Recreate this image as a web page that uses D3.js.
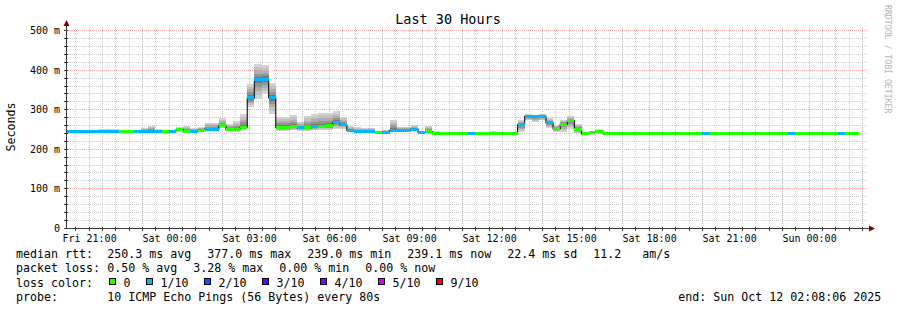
<!DOCTYPE html>
<html lang="en">
<head>
  <meta charset="UTF-8">
  <title>Last 30 Hours</title>
  <script src="https://d3js.org/d3.v7.min.js"></script>
  <style>
    body { margin: 0; background: #ffffff; }
    svg { display: block; font-family: "DejaVu Sans Mono", monospace; }
    .grid-minor { stroke: #cfcfcf; stroke-dasharray: 1,1; shape-rendering: crispEdges; }
    .grid-major { stroke: #f0a8a8; stroke-dasharray: 1,1; shape-rendering: crispEdges; }
    .axis { stroke: #3a3a3a; shape-rendering: crispEdges; }
    .tick-label { font-size: 10px; fill: #000; }
    .legend { font-size: 11.63px; fill: #000; white-space: pre; }
  </style>
</head>
<body>
<svg width="897" height="310"></svg>
<script>
  // one consolidated step = 16 minutes, first step starts Fri 20:00
  const stepStart = Date.UTC(2025, 9, 10, 20, 0, 0);
  const stepMinutes = 16;

  // median rtt per step (ms)
  const median = [
    246,246,246,246,246,246,246,246,245,245,
    246,246,246,246,246,246,250,246,246,248,
    251,251,260,250,250,256,330,376,377,330,
    255,255,258,254,254,258,258,259,267,262,
    248,245,245,245,243,243,248,248,248,251,
    243,245,240,239,239,239,239,239,239,239,
    240,239,239,240,262,283,282,283,267,252,
    263,272,250,239,242,246,241,239,239,239,
    239,239,239,239,239,239,239,239,239,239,
    239,239,239,239,239,239,239,239,239,239,
    239,239,239,239,239,239,239,239,239,239,
    239,239
  ];
  // lost pings out of 10 per step
  const loss = [
    1,1,1,1,1,1,1,1,0,0,
    1,1,1,1,0,1,0,0,1,0,
    1,1,0,0,0,0,1,1,1,1,
    0,0,0,1,0,1,0,0,1,1,
    1,1,1,1,0,1,1,1,1,1,
    1,0,0,0,0,0,0,1,0,0,
    0,0,0,0,1,1,1,1,1,0,
    0,0,0,0,0,0,0,0,0,0,
    0,0,0,0,0,0,0,0,0,0,
    1,0,0,0,0,0,0,0,0,0,
    0,0,1,0,0,0,0,0,0,1,
    0,0
  ];
  // highest / lowest ping per step (ms), drawn as smoke
  const smokeHi = [
    248,248,248,248,248,251,251,251,248,248,
    248,254,259,251,248,249,256,259,254,256,
    267,267,279,263,271,288,366,415,413,368,
    282,282,286,269,284,288,293,293,296,282,
    258,257,254,255,246,250,273,257,257,261,
    246,260,246,240,240,240,240,240,240,240,
    246,240,240,242,273,288,287,290,278,262,
    275,284,263,242,246,251,244,240,240,240,
    240,240,240,240,240,240,240,240,240,240,
    240,240,240,240,240,240,240,240,240,240,
    240,240,240,240,240,240,240,240,240,240,
    240,240
  ];
  const smokeLo = [
    244,244,244,244,244,244,244,244,243,243,
    244,244,244,244,244,244,246,244,244,245,
    246,246,253,245,246,250,307,328,341,290,
    246,246,248,247,247,248,249,249,252,252,
    245,242,242,242,241,241,244,244,244,246,
    241,242,238,238,238,238,238,238,238,238,
    238,238,238,238,244,273,270,273,254,244,
    244,252,240,238,239,240,239,238,238,238,
    238,238,238,238,238,238,238,238,238,238,
    238,238,238,238,238,238,238,238,238,238,
    238,238,238,238,238,238,238,238,238,238,
    238,238
  ];

  const yTicks = [0, 100, 200, 300, 400, 500];
  const yTickLabels = ["0", "100 m", "200 m", "300 m", "400 m", "500 m"];

  const lossSteps = [0, 1, 2, 3, 4, 5, 9];
  const lossLabels = ["0", "1/10", "2/10", "3/10", "4/10", "5/10", "9/10"];
  const lossColors = ["#26ff00", "#00b8ff", "#0059ff", "#5e00ff", "#7e00ff", "#dd00ff", "#ff0000"];

  const rttStats = ["median rtt:", "250.3 ms avg", "377.0 ms max", "239.0 ms min", "239.1 ms now", "22.4 ms sd", "11.2   am/s"];
  const lossStats = ["packet loss:", "0.50 % avg", "3.28 % max", "0.00 % min", "0.00 % now"];
  const probeInfo = ["probe:", "10 ICMP Echo Pings (56 Bytes) every 80s"];
  const endLabel = "end: Sun Oct 12 02:08:06 2025";

  const plotLeft = 66, plotRight = 866, plotTop = 27, plotBottom = 228;
  const tStart = new Date(Date.UTC(2025, 9, 10, 20, 8, 6));
  const tEnd = new Date(Date.UTC(2025, 9, 12, 2, 8, 6));

  const svg = d3.select("svg");
  const x = d3.scaleUtc().domain([tStart, tEnd]).range([plotLeft, plotRight]);
  const y = d3.scaleLinear().domain([0, 500]).range([228.3, 30.7]);
  const px = v => Math.floor(v) + 0.5;

  // grid
  const grid = svg.append("g");
  const minorX = d3.utcMinute.every(30).range(tStart, tEnd).filter(d => d.getUTCMinutes() !== 0);
  const majorX = d3.utcHour.range(tStart, tEnd);
  const minorY = d3.range(20, 520, 20).filter(v => v % 100 !== 0);

  grid.selectAll(".vminor").data(minorX).join("line")
    .attr("class", "grid-minor")
    .attr("x1", d => px(x(d))).attr("x2", d => px(x(d)))
    .attr("y1", plotTop).attr("y2", plotBottom);
  grid.selectAll(".hminor").data(minorY).join("line")
    .attr("class", "grid-minor")
    .attr("x1", plotLeft).attr("x2", plotRight + 2)
    .attr("y1", d => px(y(d))).attr("y2", d => px(y(d)));
  grid.selectAll(".vmajor").data(majorX).join("line")
    .attr("class", "grid-major")
    .attr("x1", d => px(x(d))).attr("x2", d => px(x(d)))
    .attr("y1", plotTop).attr("y2", plotBottom);
  grid.selectAll(".hmajor").data(yTicks.slice(1)).join("line")
    .attr("class", "grid-major")
    .attr("x1", plotLeft).attr("x2", plotRight + 2)
    .attr("y1", d => px(y(d))).attr("y2", d => px(y(d)));

  // data
  svg.append("clipPath").attr("id", "plotclip")
    .append("rect").attr("x", plotLeft).attr("y", plotTop)
    .attr("width", plotRight - plotLeft).attr("height", plotBottom - plotTop);

  const stepMs = stepMinutes * 60000;
  const blocks = median.map((m, i) => ({
    t0: new Date(stepStart + i * stepMs),
    t1: new Date(stepStart + (i + 1) * stepMs),
    med: m, loss: loss[i], hi: smokeHi[i], lo: smokeLo[i]
  }));

  const plot = svg.append("g").attr("clip-path", "url(#plotclip)");

  // smoke: lightest band outside, darker towards the median
  const shades = ["#d2d2d2", "#c2c2c2", "#adadad", "#939393", "#767676"];
  shades.forEach((c, j) => {
    const f = 1 - j / shades.length;
    plot.append("g").selectAll("rect").data(blocks).join("rect")
      .attr("x", d => x(d.t0))
      .attr("width", d => x(d.t1) - x(d.t0))
      .attr("y", d => y(d.med + (d.hi - d.med) * f))
      .attr("height", d => y(d.med - (d.med - d.lo) * f) - y(d.med + (d.hi - d.med) * f))
      .attr("fill", c)
      .attr("shape-rendering", "crispEdges");
  });

  const pts = blocks.map(d => [d.t0, d.med]);
  pts.push([blocks[blocks.length - 1].t1, blocks[blocks.length - 1].med]);
  plot.append("path")
    .datum(pts)
    .attr("d", d3.line().x(d => x(d[0])).y(d => y(d[1])).curve(d3.curveStepAfter))
    .attr("fill", "none")
    .attr("stroke", "#202020")
    .attr("stroke-width", 1.2);

  const colorOf = n => lossColors[lossSteps.indexOf(n)];
  plot.append("g").selectAll("rect").data(blocks).join("rect")
    .attr("x", d => x(d.t0))
    .attr("width", d => x(d.t1) - x(d.t0))
    .attr("y", d => y(d.med) - 1.5)
    .attr("height", 3)
    .attr("fill", d => colorOf(d.loss))
    .attr("shape-rendering", "crispEdges");

  // axes
  const axes = svg.append("g");
  axes.selectAll(".xt").data(minorX.concat(majorX)).join("line")
    .attr("class", "axis")
    .attr("x1", d => px(x(d))).attr("x2", d => px(x(d)))
    .attr("y1", plotBottom - 1).attr("y2", plotBottom + 3);
  axes.selectAll(".yt").data(minorY.concat(yTicks)).join("line")
    .attr("class", "axis")
    .attr("x1", plotLeft - 2).attr("x2", plotLeft + 2)
    .attr("y1", d => px(y(d))).attr("y2", d => px(y(d)));
  axes.append("line").attr("class", "axis")
    .attr("x1", plotLeft + 0.5).attr("x2", plotLeft + 0.5).attr("y1", plotBottom + 1).attr("y2", 24);
  axes.append("line").attr("class", "axis")
    .attr("x1", plotLeft).attr("x2", 870).attr("y1", plotBottom + 0.5).attr("y2", plotBottom + 0.5);
  axes.append("path").attr("d", "M63.5,26L69.5,26L66.5,20Z").attr("fill", "#7f0000");
  axes.append("path").attr("d", "M869,225.5L869,231.5L875,228.5Z").attr("fill", "#7f0000");

  svg.append("g").selectAll("text").data(yTicks).join("text")
    .attr("class", "tick-label")
    .attr("x", 60)
    .attr("y", d => px(y(d)) + 3.5)
    .attr("text-anchor", "end")
    .text((d, i) => yTickLabels[i]);

  const fmt = d3.utcFormat("%a %H:%M");
  svg.append("g").selectAll("text").data(d3.utcHour.every(3).range(tStart, tEnd)).join("text")
    .attr("class", "tick-label")
    .attr("x", d => x(d) + 0.5)
    .attr("y", 241.5)
    .attr("text-anchor", "middle")
    .text(d => fmt(d));

  // titles
  svg.append("text")
    .attr("x", 448).attr("y", 24)
    .attr("text-anchor", "middle")
    .attr("font-size", "13.5px")
    .text("Last 30 Hours");

  svg.append("text")
    .attr("class", "legend")
    .attr("transform", "translate(14.5,127) rotate(-90)")
    .attr("text-anchor", "middle")
    .text("Seconds");

  svg.append("text")
    .attr("transform", "translate(884.5,5) rotate(90)")
    .attr("font-size", "8.2px")
    .attr("fill", "#b4b4b4")
    .text("RRDTOOL / TOBI OETIKER");

  // legend
  const charW = 7, gap = 16, col2 = 107.3;
  const rows = [258, 272.3, 286.5, 300.7];

  function statRow(items, yy) {
    let xx = col2;
    items.forEach((s, i) => {
      svg.append("text").attr("class", "legend")
        .attr("x", i === 0 ? 16 : xx).attr("y", yy).text(s);
      if (i > 0) xx += s.length * charW + gap;
    });
  }
  statRow(rttStats, rows[0]);
  statRow(lossStats, rows[1]);
  statRow(probeInfo, rows[3]);

  svg.append("text").attr("class", "legend").attr("x", 16).attr("y", rows[2]).text("loss color:");
  let bx = 109;
  lossLabels.forEach((lab, i) => {
    svg.append("rect")
      .attr("x", bx + 0.5).attr("y", 278.5).attr("width", 6).attr("height", 6)
      .attr("fill", lossColors[i]).attr("stroke", "#000").attr("stroke-width", 1)
      .attr("shape-rendering", "crispEdges");
    svg.append("text").attr("class", "legend")
      .attr("x", bx + 14.5).attr("y", rows[2]).text(lab);
    bx += 14.5 + lab.length * charW + 15.5;
  });

  svg.append("text").attr("class", "legend")
    .attr("x", 678.3).attr("y", rows[3]).text(endLabel);
</script>
</body>
</html>
